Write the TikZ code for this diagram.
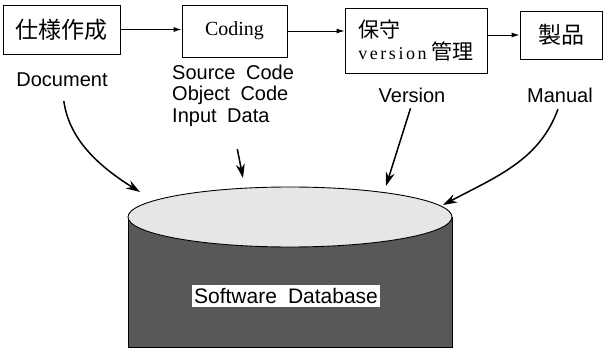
\documentclass[tikz,border=0pt]{standalone}
\usepackage{fontspec}
\usepackage{tikz}
\usetikzlibrary{arrows.meta,positioning}
\newfontfamily\jpfont{Noto Sans CJK JP}
\newfontfamily\labfont[WordSpace=1.9]{Liberation Sans}
\newfontfamily\boxfont{Liberation Serif}
\newfontfamily\verfont[LetterSpace=14]{Liberation Serif}
\definecolor{DbTop}{RGB}{230, 230, 230}
\definecolor{DbBody}{RGB}{88, 88, 88}

\begin{document}
\begin{tikzpicture}[x=1pt, y=1pt,
    stepbox/.style={rectangle, draw=black, line width=0.9pt, inner sep=0pt, align=center},
    lab/.style={font=\labfont\fontsize{20}{21.5}\selectfont, align=center, inner sep=1pt},
    flow/.style={line width=0.9pt, -{Latex[length=8pt, width=5pt]}},
    feed/.style={line width=1.5pt, -{Stealth[length=14pt, width=9pt]}}
]
\useasboundingbox (0,0) rectangle (609,348);

% Process steps
\node[stepbox, minimum width=117, minimum height=49, font=\jpfont\fontsize{23}{26}\selectfont] (spec) at (61.5, 318.5) {仕様作成};
\node[stepbox, minimum width=105, minimum height=52, font=\boxfont\fontsize{20}{24}\selectfont] (coding) at (234.5, 317) {Coding};
\node[stepbox, minimum width=142, minimum height=65, align=left] (maint) at (416, 307.5) {%
    {\jpfont\fontsize{21}{24}\selectfont 保守}\\[1pt]
    {\verfont\fontsize{18}{24}\selectfont version}\hspace{5pt}{\jpfont\fontsize{21}{24}\selectfont 管理}};
\node[stepbox, minimum width=82, minimum height=48, font=\jpfont\fontsize{23}{26}\selectfont] (product) at (561, 313) {製品};

\draw[flow] (spec.east) -- (spec.east -| coding.west);
\draw[flow] (coding.east) -- (coding.east -| maint.west);
\draw[flow] (maint.east |- product.west) -- (product.west);

% Outputs of each step
\node[lab] (doc) at (62, 268) {Document};
\node[lab, align=left, anchor=west] (src) at (171, 252.5) {Source Code\\Object Code\\Input Data};
\node[lab] (ver) at (412, 253) {Version};
\node[lab] (man) at (560, 253) {Manual};

% Software database
\fill[DbBody] (128,131) -- (128,0.5) -- (452,0.5) -- (452,131)
    arc[start angle=0, end angle=-180, x radius=162, y radius=30];
\draw[line width=0.9pt] (128,131) -- (128,0.5) -- (452,0.5) -- (452,131);
\draw[line width=0.9pt, fill=DbTop] (290,131) ellipse[x radius=162, y radius=30];
\node[fill=white, font=\labfont\fontsize{21}{24}\selectfont, inner xsep=2pt, inner ysep=3pt] (db) at (286, 52) {Software Database};

\coordinate (dbDoc) at (140, 156);
\coordinate (dbSrc) at (243, 170);
\coordinate (dbVer) at (386, 162);
\coordinate (dbMan) at (443, 143);

\draw[feed, shorten <=13pt] (doc.south) to[out=-82, in=148] (dbDoc);
\draw[feed, shorten <=22pt] (src.south) -- (dbSrc);
\draw[feed, shorten <=5pt] (ver.south) -- (dbVer);
\draw[feed, shorten <=6pt] (man.south) to[out=-110, in=28] (dbMan);

\end{tikzpicture}
\end{document}
